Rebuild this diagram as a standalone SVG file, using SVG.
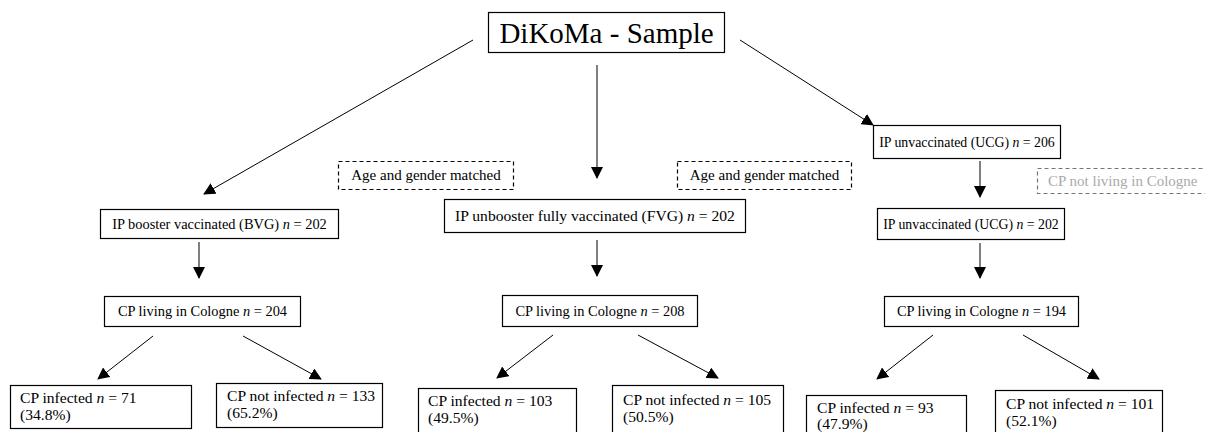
<svg xmlns="http://www.w3.org/2000/svg" width="1205" height="432" viewBox="0 0 1205 432">
<style>
.box{fill:#fff;stroke:#000;stroke-width:1.2}
.dash{fill:#fff;stroke:#000;stroke-width:1.2;stroke-dasharray:4 3}
.gdash{fill:#fff;stroke:#777;stroke-width:1.2;stroke-dasharray:4 3}
.t{font-family:"Liberation Serif","DejaVu Serif",serif;font-size:14.4px;fill:#000}
.tc{text-anchor:middle}
.g{fill:#aaa}
.big{font-size:29px}
.m{font-size:15px}
.s{font-size:13.8px}
.l{font-size:15.6px}
.con line{stroke:#000;stroke-width:1;marker-end:url(#ah)}
</style>
<defs>
<marker id="ah" markerUnits="userSpaceOnUse" markerWidth="12" markerHeight="12" viewBox="0 0 12 12" refX="11" refY="6" orient="auto">
<path d="M0,0 L12,6 L0,12 Z" fill="#000"/>
</marker>
</defs>
<rect width="1205" height="432" fill="#fff"/>
<g id="connectors" class="con">
<line x1="473" y1="40" x2="204" y2="194"/>
<line x1="597" y1="65" x2="597" y2="178"/>
<line x1="740" y1="40" x2="873" y2="125"/>
<line x1="980" y1="161" x2="980" y2="197"/>
<line x1="199" y1="242" x2="199" y2="278"/>
<line x1="597" y1="240" x2="597" y2="276"/>
<line x1="980" y1="243" x2="980" y2="278"/>
<line x1="153" y1="336" x2="98" y2="379"/>
<line x1="243" y1="336" x2="321" y2="379"/>
<line x1="553" y1="335" x2="497" y2="378"/>
<line x1="638" y1="335" x2="718" y2="378"/>
<line x1="933" y1="335" x2="877" y2="379"/>
<line x1="1023" y1="335" x2="1099" y2="379"/>
</g>
<g id="sample"><rect class="box" x="488.5" y="12.5" width="236" height="40"/><text class="t big tc" x="606.5" y="43">DiKoMa - Sample</text></g>
<g id="match1"><rect class="dash" x="338.5" y="161.5" width="175" height="28"/><text class="t m tc" x="426" y="180">Age and gender matched</text></g>
<g id="match2"><rect class="dash" x="677.5" y="161.5" width="174" height="28"/><text class="t m tc" x="764.5" y="180">Age and gender matched</text></g>
<g id="ucg206"><rect class="box" x="873.5" y="125.5" width="187" height="33"/><text class="t s tc" x="967" y="146.5">IP unvaccinated (UCG) <tspan font-style="italic">n</tspan> = 206</text></g>
<g id="notcologne"><rect class="gdash" x="1037.5" y="168.5" width="185" height="25"/><text class="t m g" x="1048" y="186">CP not living in Cologne</text></g>
<g id="bvg"><rect class="box" x="100.5" y="209.5" width="238" height="29"/><text class="t tc" x="219.5" y="229">IP booster vaccinated (BVG) <tspan font-style="italic">n</tspan> = 202</text></g>
<g id="fvg"><rect class="box" x="444.5" y="199.5" width="301" height="33"/><text class="t l tc" x="595" y="221">IP unbooster fully vaccinated (FVG) <tspan font-style="italic">n</tspan> = 202</text></g>
<g id="ucg202"><rect class="box" x="877.5" y="208.5" width="187" height="31"/><text class="t s tc" x="971" y="228.5">IP unvaccinated (UCG) <tspan font-style="italic">n</tspan> = 202</text></g>
<g id="cp204"><rect class="box" x="104.5" y="296.5" width="196" height="30"/><text class="t tc" x="202.5" y="316">CP living in Cologne <tspan font-style="italic">n</tspan> = 204</text></g>
<g id="cp208"><rect class="box" x="502.5" y="295.5" width="195" height="31"/><text class="t tc" x="600" y="316">CP living in Cologne <tspan font-style="italic">n</tspan> = 208</text></g>
<g id="cp194"><rect class="box" x="884.5" y="296.5" width="194" height="30"/><text class="t tc" x="981.5" y="316">CP living in Cologne <tspan font-style="italic">n</tspan> = 194</text></g>
<g id="inf71"><rect class="box" x="10.5" y="385.5" width="181" height="43"/><text class="t l" x="20" y="403">CP infected <tspan font-style="italic">n</tspan> = 71</text><text class="t l" x="20" y="420">(34.8%)</text></g>
<g id="ninf133"><rect class="box" x="216.5" y="383.5" width="166" height="44"/><text class="t l" x="227" y="401">CP not infected <tspan font-style="italic">n</tspan> = 133</text><text class="t l" x="227" y="418">(65.2%)</text></g>
<g id="inf103"><rect class="box" x="418.5" y="388.5" width="158" height="46"/><text class="t l" x="428" y="406">CP infected <tspan font-style="italic">n</tspan> = 103</text><text class="t l" x="428" y="423">(49.5%)</text></g>
<g id="ninf105"><rect class="box" x="612.5" y="385.5" width="171" height="48"/><text class="t l" x="623" y="405">CP not infected <tspan font-style="italic">n</tspan> = 105</text><text class="t l" x="623" y="422">(50.5%)</text></g>
<g id="inf93"><rect class="box" x="806.5" y="395.5" width="160" height="40"/><text class="t l" x="817" y="413">CP infected <tspan font-style="italic">n</tspan> = 93</text><text class="t l" x="817" y="429">(47.9%)</text></g>
<g id="ninf101"><rect class="box" x="995.5" y="390.5" width="167" height="45"/><text class="t l" x="1006" y="409">CP not infected <tspan font-style="italic">n</tspan> = 101</text><text class="t l" x="1006" y="426">(52.1%)</text></g>
</svg>
